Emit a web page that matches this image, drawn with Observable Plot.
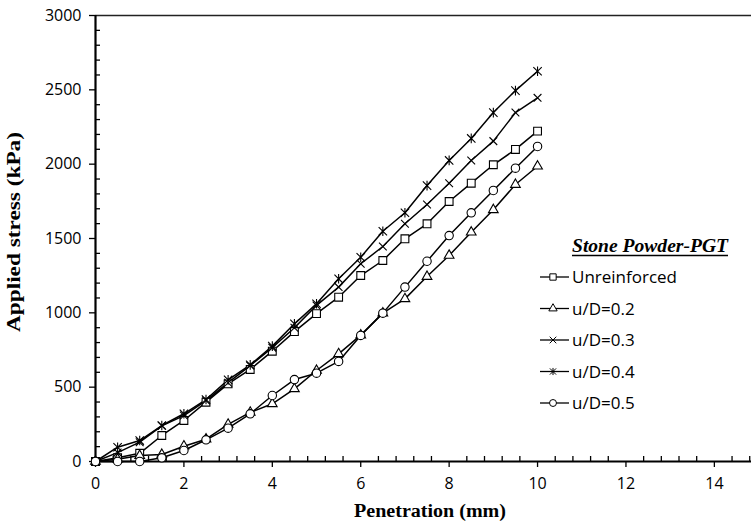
<!DOCTYPE html>
<html><head><meta charset="utf-8">
<script src="https://cdn.jsdelivr.net/npm/d3@7"></script>
<script src="https://cdn.jsdelivr.net/npm/@observablehq/plot@0.6"></script>
<style>
body{margin:0;background:#fff}
#wrap{position:relative;width:751px;height:524px;overflow:hidden;background:#fff}
#wrap svg{position:absolute;left:0;top:0}
</style></head><body><div id="wrap"></div>
<script>
// ---- data ----
const penetration = [0,0.5,1,1.5,2,2.5,3,3.5,4,4.5,5,5.5,6,6.5,7,7.5,8,8.5,9,9.5,10];
const unreinforced = [0,25,55,175,276,399,522,619,742,874,995,1105,1251,1352,1498,1599,1749,1872,1996,2099,2222];
const uD02 = [0,15,40,47,103,150,250,330,388,489,612,724,850,998,1094,1244,1386,1542,1693,1863,1986];
const uD03 = [0,60,130,240,309,410,530,645,766,900,1050,1173,1330,1446,1599,1729,1872,2025,2155,2347,2446];
const uD04 = [0,96,141,242,321,417,549,650,776,926,1061,1229,1374,1549,1673,1856,2025,2173,2347,2495,2625];
const uD05 = [0,0,0,25,74,146,224,321,444,551,594,673,848,998,1173,1347,1520,1673,1823,1973,2119];
const seriesNames = ["Unreinforced","u/D=0.2","u/D=0.3","u/D=0.4","u/D=0.5"];
const seriesValues = [unreinforced,uD02,uD03,uD04,uD05];
const xTicks = [0,2,4,6,8,10,12,14];
const yTicks = [0,500,1000,1500,2000,2500,3000];
const legendTitle = "Stone Powder-PGT";
const xTitle = "Penetration (mm)";
const yTitle = "Applied stress (kPa)";

// ---- styles ----
const asterisk = {
  draw(ctx, size) {
    const r = Math.sqrt(size / Math.PI);
    ctx.moveTo(-r, -r); ctx.lineTo(r, r);
    ctx.moveTo(-r, r); ctx.lineTo(r, -r);
    ctx.moveTo(0, -r * 1.15); ctx.lineTo(0, r * 1.15);
  }
};
const styles = [
  {symbol: "square", r: 4.4, fill: "white"},
  {symbol: "triangle", r: 3.6, fill: "white"},
  {symbol: "times", r: 3.6, fill: "none"},
  {symbol: asterisk, r: 4.2, fill: "none"},
  {symbol: "circle", r: 4.2, fill: "white"}
];

const data = [];
seriesNames.forEach((s, i) => penetration.forEach((p, j) => data.push({series: s, x: p, y: seriesValues[i][j]})));

const xMinor = d3.range(0, 75).map(i => +(i * 0.4).toFixed(1)).filter(v => v % 2 !== 0 && v <= 14.84);
const yMinor = d3.range(0, 31).map(i => i * 100).filter(v => v % 500 !== 0);

const W = 751, H = 524, mL = 95, mT = 15, mB = 63;
const chart = Plot.plot({
  width: W, height: H,
  marginLeft: mL, marginRight: 0, marginTop: mT, marginBottom: mB,
  x: {domain: [0, 14.84]},
  y: {domain: [0, 3000]},
  style: {fontFamily: "'Open Sans', sans-serif", fontSize: "16px", color: "#000", background: "#fff"},
  marks: [
    Plot.ruleX(xMinor, {x: d => d, insetTop: (H - mT - mB) - 5, stroke: "#000", strokeWidth: 1.3}),
    Plot.ruleY(yMinor, {y: d => d, insetRight: (W - mL) - 5, stroke: "#000", strokeWidth: 1.3}),
    Plot.axisX(xTicks, {tickSize: 6, tickPadding: 10, fontSize: 16, strokeWidth: 1.3, label: null, tickFormat: d => String(d)}),
    Plot.axisY(yTicks, {tickSize: 6, tickPadding: 8, fontSize: 16, strokeWidth: 1.3, label: null, tickFormat: d => String(d)}),
    Plot.ruleY([3000], {stroke: "#222", strokeWidth: 1.5}),
    Plot.ruleY([0], {stroke: "#000", strokeWidth: 2.2}),
    Plot.ruleX([0], {stroke: "#000", strokeWidth: 2.2}),
    Plot.line(data, {x: "x", y: "y", z: "series", stroke: "#000", strokeWidth: 1.5}),
    ...seriesNames.map((s, i) => Plot.dot(data.filter(d => d.series === s), {
      x: "x", y: "y", symbol: styles[i].symbol, r: styles[i].r,
      fill: styles[i].fill, stroke: "#000", strokeWidth: 1.1
    }))
  ]
});
document.getElementById("wrap").appendChild(chart);

// ---- overlay: axis titles and legend ----
const ov = d3.select("#wrap").append("svg").attr("width", W).attr("height", H)
  .style("pointer-events", "none");
ov.append("text").text(xTitle)
  .attr("x", 430).attr("y", 517).attr("text-anchor", "middle")
  .attr("font-family", "'Liberation Serif', 'Times New Roman', serif").attr("font-weight", "bold")
  .attr("font-size", 18).attr("textLength", 152).attr("lengthAdjust", "spacingAndGlyphs");
ov.append("text").text(yTitle)
  .attr("transform", "translate(20,232) rotate(-90)").attr("text-anchor", "middle")
  .attr("font-family", "'Liberation Serif', 'Times New Roman', serif").attr("font-weight", "bold")
  .attr("font-size", 18).attr("textLength", 200).attr("lengthAdjust", "spacingAndGlyphs");

const lg = ov.append("g");
lg.append("text").text(legendTitle)
  .attr("x", 572).attr("y", 252)
  .attr("font-family", "'Liberation Serif', 'Times New Roman', serif").attr("font-weight", "bold").attr("font-style", "italic")
  .attr("font-size", 18).attr("textLength", 156).attr("lengthAdjust", "spacingAndGlyphs");
lg.append("line").attr("x1", 572).attr("x2", 728).attr("y1", 255.5).attr("y2", 255.5)
  .attr("stroke", "#000").attr("stroke-width", 1.3);
const legendSym = [
  d3.symbol(d3.symbolSquare, 40),
  d3.symbol(d3.symbolTriangle, 30),
  d3.symbol(d3.symbolTimes, 30),
  d3.symbol(asterisk, 30),
  d3.symbol(d3.symbolCircle, 38)
];
seriesNames.forEach((s, i) => {
  const cy = 277 + i * 31.5;
  lg.append("line").attr("x1", 540).attr("x2", 569).attr("y1", cy).attr("y2", cy)
    .attr("stroke", "#000").attr("stroke-width", 1.3);
  lg.append("path").attr("d", legendSym[i]()).attr("transform", `translate(553,${cy})`)
    .attr("fill", styles[i].fill).attr("stroke", "#000").attr("stroke-width", 1);
  lg.append("text").text(s).attr("x", 572).attr("y", cy).attr("dy", "0.36em")
    .attr("font-family", "'Open Sans', sans-serif").attr("font-size", 17);
});
</script>
</body></html>
